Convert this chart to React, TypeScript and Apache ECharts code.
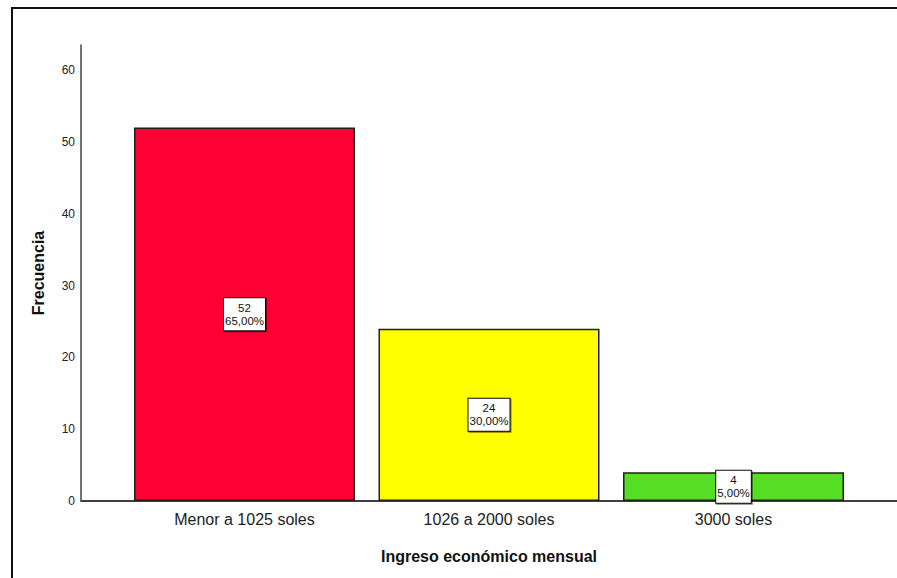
import React, { useEffect, useRef } from "react";
import * as echarts from "echarts";

// Ingreso económico mensual — frequency per income bracket
const categories = ["Menor a 1025 soles", "1026 a 2000 soles", "3000 soles"];
const frequencies = [52, 24, 4];
const percentages = [65.0, 30.0, 5.0];
const barColors = ["#ff0033", "#ffff00", "#55de24"];
const yTicks = [0, 10, 20, 30, 40, 50, 60];

const FONT = "Arial, 'Liberation Sans', Helvetica, sans-serif";
const WIDTH = 897;
const HEIGHT = 578;
const GRID = { left: 81, right: 0, top: 45, bottom: 77 };

const fmtPct = (v: number) => v.toFixed(2).replace(".", ",") + "%";

export default function App() {
  const ref = useRef<HTMLDivElement>(null);

  useEffect(() => {
    if (!ref.current) return;
    const chart = echarts.init(ref.current, null, { renderer: "svg" });

    // bars sit on positions 1..n of a numeric axis so the plot can keep
    // SPSS-style wide margins on both sides of the category band
    const pad = 0.6687;
    const data = categories.map((c, i) => ({
      value: [i + 1, frequencies[i]],
      itemStyle: { color: barColors[i] },
    }));

    const baseY = HEIGHT - GRID.bottom;

    chart.setOption({
      animation: false,
      backgroundColor: "#ffffff",
      grid: {
        ...GRID,
        containLabel: false,
        outerBoundsMode: "none",
      },
      xAxis: {
        type: "value",
        min: 1 - pad,
        max: categories.length + pad,
        splitLine: { show: false },
        axisTick: { show: false },
        axisLine: { show: true, onZero: false, lineStyle: { color: "#333", width: 1.5 } },
        axisLabel: {
          showMinLabel: false,
          showMaxLabel: false,
          margin: 10,
          fontSize: 16,
          fontFamily: FONT,
          color: "#222",
          formatter: (v: number) =>
            Number.isInteger(v) && v >= 1 && v <= categories.length ? categories[v - 1] : "",
        },
        name: "Ingreso económico mensual",
        nameLocation: "middle",
        nameGap: 47,
        nameTextStyle: { fontSize: 16, fontWeight: "bold", fontFamily: FONT, color: "#111" },
      },
      yAxis: {
        type: "value",
        min: yTicks[0],
        max: 63.5,
        interval: 10,
        splitLine: { show: false },
        axisTick: { show: false },
        axisLine: { show: true, lineStyle: { color: "#444", width: 1.5 } },
        axisLabel: {
          showMaxLabel: false,
          margin: 6,
          fontSize: 12,
          fontFamily: FONT,
          color: "#222",
          formatter: (v: number) => (yTicks.includes(v) ? String(v) : ""),
        },
        name: "Frecuencia",
        nameLocation: "middle",
        nameGap: 35,
        nameTextStyle: { fontSize: 16, fontWeight: "bold", fontFamily: FONT, color: "#111" },
      },
      series: [
        {
          type: "bar",
          data,
          barWidth: 221,
          itemStyle: { borderColor: "#1f1f1f", borderWidth: 1.5 },
          label: {
            show: true,
            position: "inside",
            formatter: (p: any) =>
              `${frequencies[p.dataIndex]}\n${fmtPct(percentages[p.dataIndex])}`,
            fontSize: 11.5,
            lineHeight: 13,
            fontFamily: FONT,
            color: "#111",
            backgroundColor: "#ffffff",
            borderColor: "#111",
            borderWidth: 1,
            padding: [3, 1, 3, 1],
            shadowColor: "rgba(0,0,0,0.5)",
            shadowOffsetX: 1,
            shadowOffsetY: 1,
            shadowBlur: 0,
          },
        },
      ],
      graphic: [
        // outer frame of the output panel
        {
          type: "rect",
          shape: { x: 12, y: 8, width: 920, height: 620 },
          style: { fill: "none", stroke: "#111", lineWidth: 2 },
          silent: true,
        },
        // baseline running across the full plot width
        {
          type: "line",
          shape: { x1: GRID.left, y1: baseY, x2: WIDTH - GRID.right, y2: baseY },
          style: { stroke: "#333", lineWidth: 1.5 },
          z: 0,
          silent: true,
        },
      ],
    });

    return () => chart.dispose();
  }, []);

  return (
    <div
      ref={ref}
      style={{ position: "fixed", left: 0, top: 0, width: WIDTH, height: HEIGHT }}
    />
  );
}
